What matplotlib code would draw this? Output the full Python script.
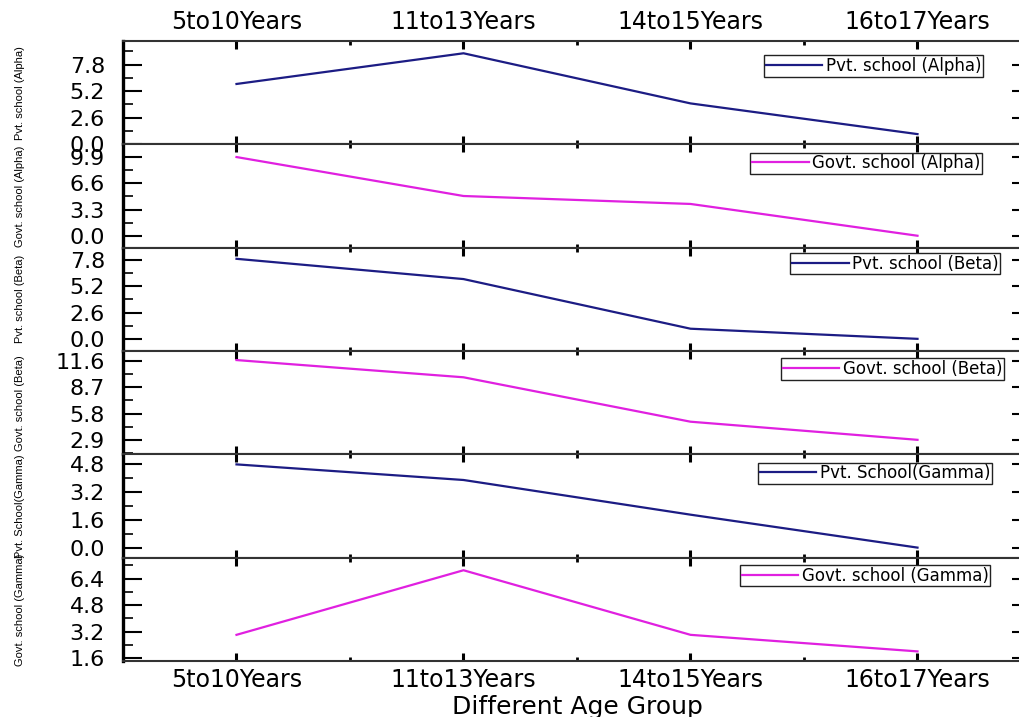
import matplotlib
matplotlib.use('Agg')
import matplotlib.pyplot as plt
from matplotlib.ticker import MultipleLocator, FixedLocator, FormatStrFormatter

# categories on the x axis
age_groups = ['5to10Years', '11to13Years', '14to15Years', '16to17Years']

# values (top to bottom)
pvt_alpha = [5.9, 8.9, 4.0, 1.0]
govt_alpha = [9.9, 5.0, 4.0, 0.0]
pvt_beta = [7.9, 5.9, 1.0, 0.0]
govt_beta = [11.7, 9.8, 4.9, 2.9]
pvt_gamma = [4.8, 3.9, 1.9, 0.0]
govt_gamma = [3.0, 6.9, 3.0, 2.0]

names = ['Pvt. school (Alpha)', 'Govt. school (Alpha)', 'Pvt. school (Beta)',
         'Govt. school (Beta)', 'Pvt. School(Gamma)', 'Govt. school (Gamma)']
series = [pvt_alpha, govt_alpha, pvt_beta, govt_beta, pvt_gamma, govt_gamma]

# axis settings per panel
ylims = [(0, 10.1), (-1.5, 11.5), (-1.2, 9.0), (1.3, 12.7), (-0.58, 5.38), (1.42, 7.66)]
ysteps = [2.6, 3.3, 2.6, 2.9, 1.6, 1.6]
leg_anchor = [(0.947, 0.861), (0.946, 0.92), (0.966, 0.949),
              (0.970, 0.929), (0.957, 0.92), (0.955, 0.929)]

navy = '#1c1c84'
magenta = '#e020e0'

W, H = 1020, 717
fig = plt.figure(figsize=(W / 100, H / 100), dpi=100)

left_px, right_px, top_px, bot_px = 123, 1031, 41, 661
ph = (bot_px - top_px) / 6
x = list(range(len(age_groups)))

for i, (vals, name) in enumerate(zip(series, names)):
    top = top_px + i * ph
    ax = fig.add_axes([left_px / W, 1 - (top + ph) / H, (right_px - left_px) / W, ph / H])
    color = navy if i % 2 == 0 else magenta
    ax.plot(x, vals, color=color, lw=1.6, label=name)
    ax.set_xlim(-0.5, 3.5)
    ax.set_ylim(*ylims[i])

    ax.xaxis.set_major_locator(FixedLocator(x))
    ax.xaxis.set_minor_locator(FixedLocator([0.5, 1.5, 2.5]))
    ax.set_xticklabels(age_groups)
    ax.yaxis.set_major_locator(MultipleLocator(ysteps[i]))
    ax.yaxis.set_minor_locator(MultipleLocator(ysteps[i] / 2))
    ax.yaxis.set_major_formatter(FormatStrFormatter('%.1f'))

    ax.tick_params(axis='y', which='major', direction='in', length=14, width=1.5,
                   left=True, right=True, labelsize=16, pad=13)
    ax.tick_params(axis='y', which='minor', direction='in', length=7, width=1.2,
                   left=True, right=True)
    ax.tick_params(axis='x', which='major', direction='in', length=6, width=2.2,
                   top=True, bottom=True, labelsize=17,
                   labelbottom=(i == 5), labeltop=(i == 0), pad=5)
    ax.tick_params(axis='x', which='minor', direction='in', length=3, width=2.0,
                   top=True, bottom=True)

    ax.spines['left'].set_linewidth(2.4)
    ax.spines['left'].set_color('black')
    for s in ['top', 'bottom', 'right']:
        ax.spines[s].set_linewidth(1.5)
        ax.spines[s].set_color('#333333')

    leg = ax.legend(loc='upper right', bbox_to_anchor=leg_anchor[i], borderaxespad=0,
                    fancybox=False, framealpha=1, edgecolor='#222222', fontsize=12,
                    handlelength=3.4, handletextpad=0.2, borderpad=0.1)
    leg.get_frame().set_linewidth(1.0)

    fig.text(20 / W, 1 - (top + ph / 2) / H, name, rotation=90, ha='center', va='center',
             fontsize=8, family='Liberation Sans')

    if i == 5:
        ax.set_xlabel('Different Age Group', fontsize=18, labelpad=2)

fig.savefig('out.png', dpi=100)
